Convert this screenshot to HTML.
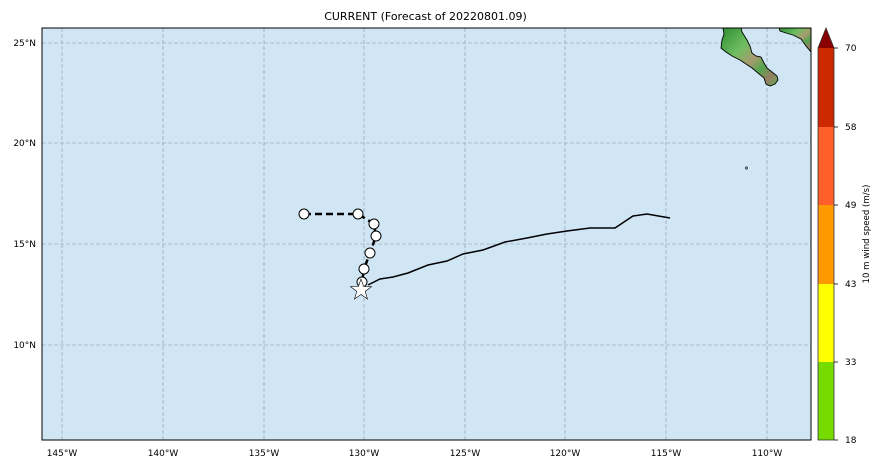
<!DOCTYPE html>
<html><head><meta charset="utf-8"><style>
html,body{margin:0;padding:0;background:#fff;}
svg{display:block;}
text{font-family:"DejaVu Sans","Liberation Sans",sans-serif;fill:#000;}
</style></head><body>
<svg width="881" height="468" viewBox="0 0 881 468" xmlns="http://www.w3.org/2000/svg">
<defs>
<linearGradient id="land" x1="0" y1="0" x2="1" y2="1">
<stop offset="0" stop-color="#2f8f35"/><stop offset="0.35" stop-color="#6fbd60"/>
<stop offset="0.55" stop-color="#a99a70"/><stop offset="0.7" stop-color="#55a64d"/>
<stop offset="0.85" stop-color="#957d62"/><stop offset="1" stop-color="#5fae55"/>
</linearGradient>
<clipPath id="mapclip"><rect x="42" y="28" width="769" height="412"/></clipPath>
</defs>
<text x="425.5" y="20" font-size="11" text-anchor="middle">CURRENT (Forecast of 20220801.09)</text>
<rect x="42" y="28" width="769" height="412" fill="#d0e6f5"/>
<g clip-path="url(#mapclip)">
<g stroke="#7b8c98" stroke-width="0.6" stroke-dasharray="4,2" opacity="0.85">
<line x1="62" y1="28" x2="62" y2="440"/><line x1="163" y1="28" x2="163" y2="440"/>
<line x1="264" y1="28" x2="264" y2="440"/><line x1="364" y1="28" x2="364" y2="440"/>
<line x1="465" y1="28" x2="465" y2="440"/><line x1="565" y1="28" x2="565" y2="440"/>
<line x1="666" y1="28" x2="666" y2="440"/><line x1="767" y1="28" x2="767" y2="440"/>
<line x1="42" y1="43" x2="811" y2="43"/><line x1="42" y1="143" x2="811" y2="143"/>
<line x1="42" y1="244" x2="811" y2="244"/><line x1="42" y1="345" x2="811" y2="345"/>
</g>
<path d="M723,28 L741,28 L742,32 L747,40 L750,46 L752,53 L756,56 L761,57 L764,63 L767,68 L772,72 L777,76 L778,80 L775,84 L770,86 L766,84 L764,78 L758,73 L752,68 L746,64 L740,60 L732,56 L726,52 L721,48 L722,40 L724,34 Z" fill="url(#land)" stroke="#000" stroke-width="0.9"/>
<path d="M779,28 L811,28 L811,52 L806,46 L801,39 L793,35 L786,33 L780,31 Z" fill="url(#land)" stroke="#000" stroke-width="0.9"/>
<circle cx="746.5" cy="168" r="1.2" fill="#7aa" stroke="#223" stroke-width="0.6"/>
<polyline points="368,285 380,279 393,277 408,273 428,265 447,261 463,254 483,250 505,242 527,238 547,234 567,231 590,228 615,228 633,216 647,214 670,218" fill="none" stroke="#000" stroke-width="1.5"/>
<polyline points="304,214 358,214 374,224 376,236 370,253 364,269 362,282" fill="none" stroke="#000" stroke-width="2.5" stroke-dasharray="7,4"/>
<g fill="#fff" stroke="#000" stroke-width="1">
<circle cx="304" cy="214" r="5"/><circle cx="358" cy="214" r="5"/>
<circle cx="374" cy="224" r="5"/><circle cx="376" cy="236" r="5"/>
<circle cx="370" cy="253" r="5"/><circle cx="364" cy="269" r="5"/>
<circle cx="362" cy="282" r="5"/>
</g>
<polygon points="361,279 363.6,286.4 371.5,286.6 365.2,291.4 367.5,299 361,294.5 354.5,299 356.8,291.4 350.5,286.6 358.4,286.4" fill="#fff" stroke="#000" stroke-width="0.6"/>
</g>
<rect x="42" y="28" width="769" height="412" fill="none" stroke="#000" stroke-width="1"/>
<g font-size="9" text-anchor="middle">
<text x="62" y="456">145°W</text><text x="163" y="456">140°W</text>
<text x="264" y="456">135°W</text><text x="364" y="456">130°W</text>
<text x="465" y="456">125°W</text><text x="565" y="456">120°W</text>
<text x="666" y="456">115°W</text><text x="767" y="456">110°W</text>
</g>
<g font-size="9" text-anchor="end">
<text x="36" y="46">25°N</text><text x="36" y="146">20°N</text>
<text x="36" y="247">15°N</text><text x="36" y="348">10°N</text>
</g>
<rect x="818" y="362" width="16" height="78" fill="#76dc00"/>
<rect x="818" y="284" width="16" height="78" fill="#ffff00"/>
<rect x="818" y="205" width="16" height="79" fill="#ff9900"/>
<rect x="818" y="127" width="16" height="78" fill="#ff5f2a"/>
<rect x="818" y="48" width="16" height="79" fill="#cc2900"/>
<polygon points="818,48 826,28 834,48" fill="#880000"/>
<polygon points="818,440 818,48 826,28 834,48 834,440" fill="none" stroke="#333" stroke-width="0.8"/>
<g stroke="#000" stroke-width="0.8">
<line x1="834" y1="48" x2="838" y2="48"/><line x1="834" y1="127" x2="838" y2="127"/>
<line x1="834" y1="205" x2="838" y2="205"/><line x1="834" y1="284" x2="838" y2="284"/>
<line x1="834" y1="362" x2="838" y2="362"/><line x1="834" y1="440" x2="838" y2="440"/>
</g>
<g font-size="9">
<text x="845" y="51">70</text><text x="845" y="130">58</text>
<text x="845" y="208">49</text><text x="845" y="287">43</text>
<text x="845" y="365">33</text><text x="845" y="443">18</text>
</g>
<text x="0" y="0" font-size="8.6" text-anchor="middle" transform="translate(869,234) rotate(-90)">10 m wind speed (m/s)</text>
</svg>
</body></html>
